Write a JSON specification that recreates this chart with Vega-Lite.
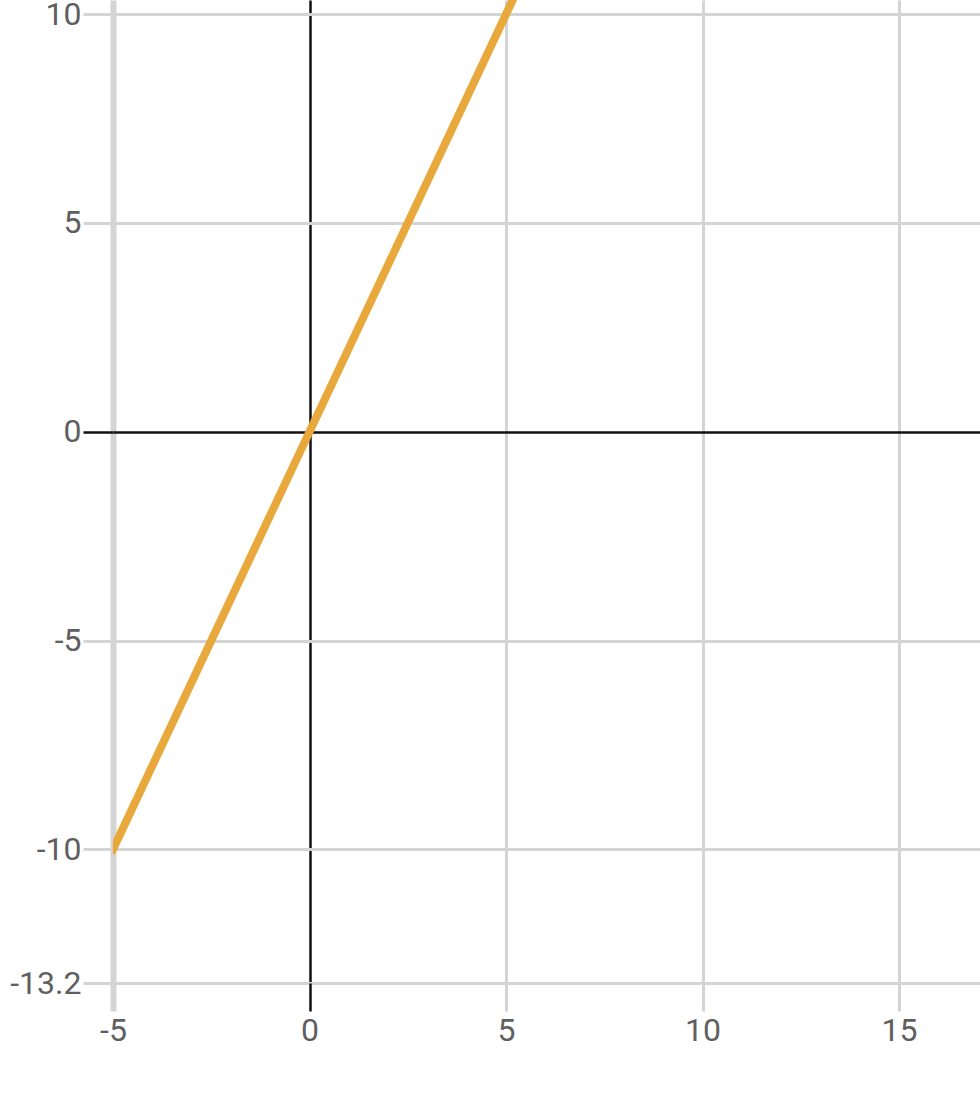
{
  "$schema": "https://vega.github.io/schema/vega-lite/v6.json",
  "width": 867,
  "height": 983,
  "autosize": {"type": "none"},
  "padding": {"left": 113, "top": 0, "right": 0, "bottom": 111},
  "background": "white",
  "config": {"view": {"stroke": null}},
  "data": {"values": [{"x": -5, "y": -10}, {"x": 6, "y": 12}]},
  "mark": {"type": "line", "color": "#E9A83B", "strokeWidth": 8, "clip": true, "strokeCap": "square"},
  "encoding": {
    "x": {
      "field": "x", "type": "quantitative",
      "scale": {"domain": [-5, 17.06], "nice": false, "zero": false},
      "axis": {
        "title": null, "values": [-5, 0, 5, 10, 15], "domain": false,
        "labelExpr": "toString(datum.value)",
        "grid": true,
        "gridColor": {"condition": {"test": "datum.value === 0", "value": "#111111"}, "value": "#d4d4d4"},
        "gridWidth": {"condition": [{"test": "datum.value === 0", "value": 2.5}, {"test": "datum.value === -5", "value": 6}], "value": 3},
        "tickColor": {"condition": {"test": "datum.value === 0", "value": "#111111"}, "value": "#d4d4d4"},
        "tickWidth": {"condition": [{"test": "datum.value === 0", "value": 2.5}, {"test": "datum.value === -5", "value": 6}], "value": 3},
        "tickSize": 28,
        "labelPadding": 4,
        "labelFont": "Roboto", "labelFontSize": 32, "labelColor": "#5f5f5f",
        "labelFlush": false, "labelOverlap": false
      }
    },
    "y": {
      "field": "y", "type": "quantitative",
      "scale": {"domain": [-13.2, 10.34], "nice": false, "zero": false},
      "axis": {
        "title": null, "values": [-13.2, -10, -5, 0, 5, 10], "domain": false,
        "labelExpr": "toString(datum.value)",
        "grid": true,
        "gridColor": {"condition": {"test": "datum.value === 0", "value": "#111111"}, "value": "#d4d4d4"},
        "gridWidth": {"condition": {"test": "datum.value === 0", "value": 2.5}, "value": 3},
        "tickColor": {"condition": {"test": "datum.value === 0", "value": "#111111"}, "value": "#d4d4d4"},
        "tickWidth": {"condition": {"test": "datum.value === 0", "value": 2.5}, "value": 3},
        "tickSize": 30,
        "labelPadding": 2,
        "labelFont": "Roboto", "labelFontSize": 32, "labelColor": "#5f5f5f",
        "labelFlush": false, "labelOverlap": false
      }
    }
  }
}
